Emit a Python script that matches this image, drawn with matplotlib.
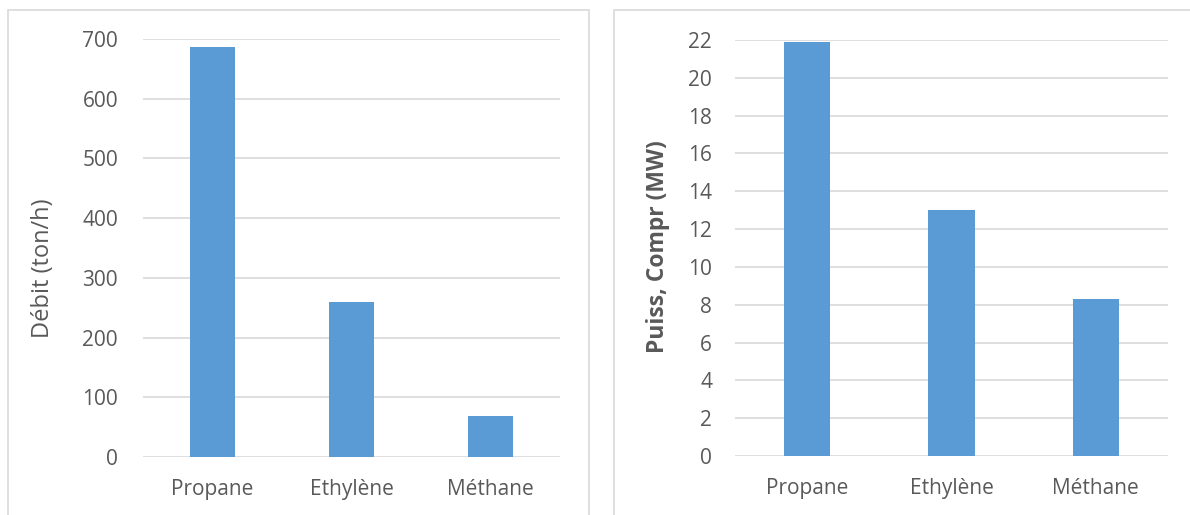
import matplotlib
matplotlib.use("Agg")
import matplotlib.pyplot as plt
from matplotlib.patches import Rectangle

categories = ["Propane", "Ethylène", "Méthane"]
debit = [686, 260, 68]          # ton/h
puissance = [21.9, 13.0, 8.3]   # MW
debit_ticks = [0, 100, 200, 300, 400, 500, 600, 700]
puiss_ticks = [0, 2, 4, 6, 8, 10, 12, 14, 16, 18, 20, 22]

BAR = "#5b9bd5"
GRID = "#d9d9d9"
TEXT = "#595959"
FONT = "Open Sans"

W, H = 1190, 515
fig = plt.figure(figsize=(W / 100, H / 100), dpi=100)
fig.patch.set_facecolor("white")

# chart frames
for x0, x1 in [(8, 589), (614, 1195)]:
    fig.add_artist(Rectangle((x0 / W, -0.01), (x1 - x0) / W, (H - 10) / H + 0.01,
                             transform=fig.transFigure, fill=False,
                             edgecolor=GRID, linewidth=1.2))


def panel(left, right, top, bottom, values, ticks, label, bold, lab_size,
          lab_x, lab_y, ypad):
    ax = fig.add_axes([left / W, 1 - bottom / H, (right - left) / W, (bottom - top) / H])
    x = range(len(categories))
    ax.bar(x, values, width=0.32, color=BAR, zorder=3)
    ax.set_xlim(-0.5, len(categories) - 0.5)
    ax.set_ylim(0, ticks[-1])
    ax.set_yticks(ticks)
    ax.set_xticks(list(x))
    ax.set_xticklabels(categories)
    ax.grid(axis="y", color=GRID, linewidth=1.2, zorder=0)
    for s in ax.spines.values():
        s.set_visible(False)
    ax.tick_params(length=0, colors=TEXT, labelsize=15)
    ax.tick_params(axis="y", pad=ypad)
    ax.tick_params(axis="x", pad=15.5)
    for t in ax.get_xticklabels() + ax.get_yticklabels():
        t.set_fontfamily(FONT)
    ax.set_ylabel(label, fontsize=lab_size, color=TEXT, fontfamily=FONT,
                  fontweight="bold" if bold else "normal")
    w_px = right - left
    h_px = bottom - top
    ax.yaxis.set_label_coords(-lab_x / w_px, (bottom - lab_y) / h_px)
    ax.yaxis.label.set_verticalalignment("center")
    return ax


panel(143, 560, 39, 457, debit, debit_ticks, "Débit (ton/h)", False, 17,
      100, 268, 18)
panel(735, 1168, 40, 456, puissance, puiss_ticks, "Puiss, Compr (MW)", True, 16.5,
      77, 247, 16.5)

fig.savefig("out.png", dpi=100)
